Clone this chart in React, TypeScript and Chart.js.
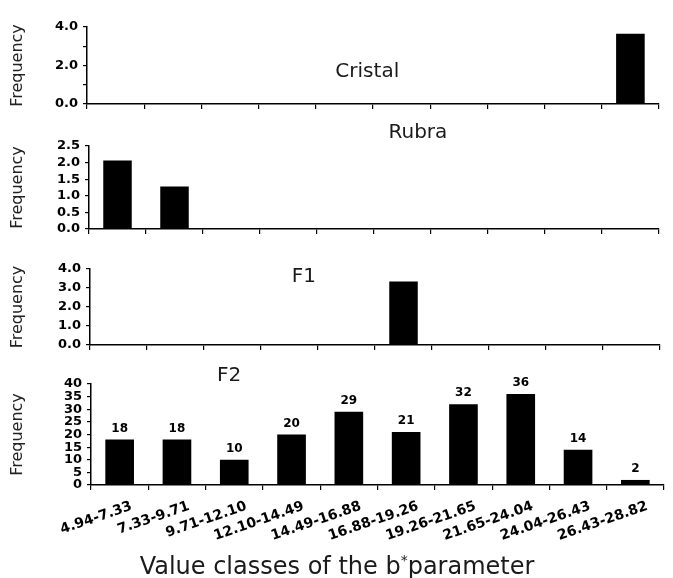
import React, { useEffect, useRef } from 'react';
import { Chart, registerables } from 'chart.js';

Chart.register(...registerables);

// ---- data ----
const categories = [
  '4.94-7.33', '7.33-9.71', '9.71-12.10', '12.10-14.49', '14.49-16.88',
  '16.88-19.26', '19.26-21.65', '21.65-24.04', '24.04-26.43', '26.43-28.82',
];
const cristalValues = [0, 0, 0, 0, 0, 0, 0, 0, 0, 3.65];
const rubraValues = [2.06, 1.28, 0, 0, 0, 0, 0, 0, 0, 0];
const f1Values = [0, 0, 0, 0, 0, 3.34, 0, 0, 0, 0];
const f2Values = [18, 18, 10, 20, 29, 21, 32, 36, 14, 2];

const yTitle = 'Frequency';
const xTitleMain = 'Value classes of the b';
const xTitleSup = '*';
const xTitleEnd = 'parameter';

const W = 673;
const H = 578;

type Panel = {
  title: string;
  values: number[];
  max: number;
  step: number;
  fmt: (v: number) => string;
  top: number;
  height: number;
  area: { left: number; right: number; top: number; bottom: number };
  titlePos: [number, number];
  showX: boolean;
  showValues: boolean;
};

const panels: Panel[] = [
  {
    title: 'Cristal', values: cristalValues, max: 4, step: 1,
    fmt: (v) => (Math.round(v) % 2 === 0 ? v.toFixed(1) : ''),
    top: 0, height: 122, area: { left: 87, right: 659, top: 27, bottom: 104 },
    titlePos: [0.49, 0.58], showX: false, showValues: false,
  },
  {
    title: 'Rubra', values: rubraValues, max: 2.5, step: 0.5,
    fmt: (v) => v.toFixed(1),
    top: 122, height: 125, area: { left: 89, right: 659, top: 146, bottom: 229 },
    titlePos: [0.577, -0.156], showX: false, showValues: false,
  },
  {
    title: 'F1', values: f1Values, max: 4, step: 1,
    fmt: (v) => v.toFixed(1),
    top: 247, height: 116, area: { left: 90, right: 660, top: 269, bottom: 345 },
    titlePos: [0.375, 0.1], showX: false, showValues: false,
  },
  {
    title: 'F2', values: f2Values, max: 40, step: 5,
    fmt: (v) => String(v),
    top: 363, height: 215, area: { left: 91, right: 664, top: 384, bottom: 485 },
    titlePos: [0.241, -0.08], showX: true, showValues: true,
  },
];

function PanelChart({ p }: { p: Panel }) {
  const ref = useRef<HTMLCanvasElement | null>(null);

  useEffect(() => {
    if (!ref.current) return;

    const titlePlugin = {
      id: 'panelTitle',
      afterDraw(chart: any) {
        const { ctx, chartArea } = chart;
        ctx.save();
        ctx.fillStyle = '#1a1a1a';
        ctx.font = '20px "DejaVu Sans"';
        ctx.textAlign = 'center';
        ctx.textBaseline = 'middle';
        const x = chartArea.left + (chartArea.right - chartArea.left) * p.titlePos[0];
        const y = chartArea.top + (chartArea.bottom - chartArea.top) * p.titlePos[1];
        ctx.fillText(p.title, x, y);
        ctx.restore();
      },
    };

    const valuePlugin = {
      id: 'valueLabels',
      afterDatasetsDraw(chart: any) {
        if (!p.showValues) return;
        const { ctx } = chart;
        const meta = chart.getDatasetMeta(0);
        ctx.save();
        ctx.fillStyle = '#000';
        ctx.font = 'bold 12px "DejaVu Sans"';
        ctx.textAlign = 'center';
        ctx.textBaseline = 'alphabetic';
        meta.data.forEach((el: any, i: number) => {
          ctx.fillText(String(p.values[i]), el.x, el.y - 8);
        });
        ctx.restore();
      },
    };

    const xTitlePlugin = {
      id: 'xTitle',
      afterDraw(chart: any) {
        if (!p.showX) return;
        const { ctx } = chart;
        ctx.save();
        ctx.fillStyle = '#1a1a1a';
        ctx.textBaseline = 'alphabetic';
        ctx.textAlign = 'left';
        const mainFont = '24px "DejaVu Sans"';
        const supFont = '14px "DejaVu Sans"';
        ctx.font = mainFont;
        const w1 = ctx.measureText(xTitleMain).width;
        const w3 = ctx.measureText(xTitleEnd).width;
        ctx.font = supFont;
        const w2 = ctx.measureText(xTitleSup).width;
        const total = w1 + w2 + w3;
        const cx = 337;
        const baseY = chart.height - 4;
        let x = cx - total / 2;
        ctx.font = mainFont;
        ctx.fillText(xTitleMain, x, baseY);
        x += w1;
        ctx.font = supFont;
        ctx.fillText(xTitleSup, x, baseY - 9);
        x += w2;
        ctx.font = mainFont;
        ctx.fillText(xTitleEnd, x, baseY);
        ctx.restore();
      },
    };

    const chart = new Chart(ref.current, {
      type: 'bar',
      data: {
        labels: categories,
        datasets: [
          {
            data: p.values,
            backgroundColor: '#000',
            borderWidth: 0,
            barPercentage: 0.5,
            categoryPercentage: 1,
          },
        ],
      },
      options: {
        responsive: false,
        animation: false,
        devicePixelRatio: 1,
        layout: {
          padding: { left: 0, right: W - p.area.right, top: p.area.top - p.top, bottom: 0 },
        },
        plugins: {
          legend: { display: false },
          tooltip: { enabled: false },
          title: { display: false },
        },
        scales: {
          x: {
            type: 'category',
            offset: true,
            grid: {
              display: true,
              offset: true,
              drawOnChartArea: false,
              drawTicks: true,
              tickLength: 5,
              color: '#000',
              lineWidth: 1.2,
            },
            border: { display: true, color: '#000', width: 1.5 },
            ticks: {
              display: p.showX,
              autoSkip: false,
              minRotation: 19,
              maxRotation: 19,
              padding: 8,
              labelOffset: 12,
              color: '#000',
              font: { family: 'DejaVu Sans', weight: 'bold', size: 14 },
            },
            afterFit: (s: any) => {
              s.height = p.top + p.height - p.area.bottom;
            },
          },
          y: {
            min: 0,
            max: p.max,
            grid: {
              display: true,
              drawOnChartArea: false,
              drawTicks: true,
              tickLength: 4,
              color: '#000',
              lineWidth: 1.2,
            },
            border: { display: true, color: '#000', width: 1.5 },
            ticks: {
              stepSize: p.step,
              autoSkip: false,
              padding: 5,
              color: '#000',
              font: { family: 'DejaVu Sans', weight: 'bold', size: 13 },
              callback: (v: any) => p.fmt(Number(v)),
            },
            title: {
              display: true,
              text: yTitle,
              color: '#222',
              font: { family: 'DejaVu Sans', size: 16 },
              padding: { top: 8, bottom: 0 },
            },
            afterFit: (s: any) => {
              s.width = p.area.left;
            },
          },
        },
      } as any,
      plugins: [titlePlugin, valuePlugin, xTitlePlugin],
    });

    return () => chart.destroy();
  }, [p]);

  return (
    <canvas
      ref={ref}
      width={W}
      height={p.height}
      style={{ position: 'absolute', left: 0, top: p.top, width: W, height: p.height, display: 'block' }}
    />
  );
}

export default function App() {
  return (
    <div
      style={{
        position: 'absolute',
        left: 0,
        top: 0,
        width: W,
        height: H,
        background: '#fff',
        overflow: 'hidden',
      }}
    >
      {panels.map((p) => (
        <PanelChart key={p.title} p={p} />
      ))}
    </div>
  );
}
